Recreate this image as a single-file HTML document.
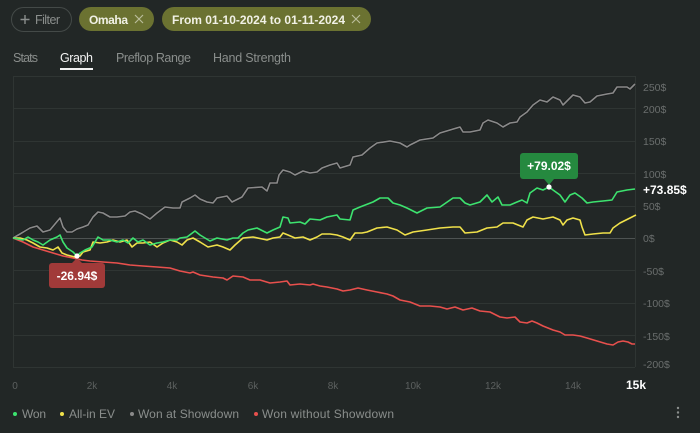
<!DOCTYPE html>
<html><head><meta charset="utf-8"><style>
html,body{margin:0;padding:0;background:#222726;}
svg{display:block;font-family:"Liberation Sans",sans-serif;}
</style></head><body>
<svg width="700" height="433" viewBox="0 0 700 433" xmlns="http://www.w3.org/2000/svg">
<rect width="700" height="433" fill="#222726"/>
<!-- chips -->
<rect x="11.5" y="7.5" width="60" height="24" rx="12" fill="none" stroke="#444a48"/>
<path d="M20.5 19.5h9M25 15v9" stroke="#8a8e8c" stroke-width="1.4"/>
<text x="35" y="24" font-size="12.5" fill="#8a8e8c" textLength="25">Filter</text>
<rect x="79" y="7" width="75" height="24" rx="12" fill="#6b7231"/>
<text x="89" y="24" font-size="12" font-weight="bold" fill="#f1f1e6" textLength="39">Omaha</text>
<path d="M135 15l8 8M143 15l-8 8" stroke="#b9bd9a" stroke-width="1.2"/>
<rect x="162" y="7" width="209" height="24" rx="12" fill="#6b7231"/>
<text x="172" y="24" font-size="12" font-weight="bold" fill="#f1f1e6" textLength="173">From 01-10-2024 to 01-11-2024</text>
<path d="M352 15l8 8M360 15l-8 8" stroke="#b9bd9a" stroke-width="1.2"/>
<!-- tabs -->
<text x="13" y="62" font-size="12.5" fill="#8a8e8c" textLength="25">Stats</text>
<text x="60" y="62" font-size="12.5" fill="#f2f2f2" textLength="33">Graph</text>
<rect x="60" y="68" width="33" height="2" fill="#f2f2f2"/>
<text x="116" y="62" font-size="12.5" fill="#8a8e8c" textLength="75">Preflop Range</text>
<text x="213" y="62" font-size="12.5" fill="#8a8e8c" textLength="78">Hand Strength</text>
<!-- grid -->
<g stroke="#2f3533" stroke-width="1">
<line x1="13" y1="76.5" x2="635" y2="76.5"/>
<line x1="13" y1="108.5" x2="635" y2="108.5"/>
<line x1="13" y1="141.5" x2="635" y2="141.5"/>
<line x1="13" y1="173.5" x2="635" y2="173.5"/>
<line x1="13" y1="206.5" x2="635" y2="206.5"/>
<line x1="13" y1="270.5" x2="635" y2="270.5"/>
<line x1="13" y1="303.5" x2="635" y2="303.5"/>
<line x1="13" y1="335.5" x2="635" y2="335.5"/>
<line x1="13" y1="367.5" x2="635" y2="367.5"/>
<line x1="13.5" y1="76" x2="13.5" y2="367"/>
<line x1="635.5" y1="76" x2="635.5" y2="367"/>
</g>
<line x1="13" y1="238.5" x2="635" y2="238.5" stroke="#4e5352" stroke-width="1"/>
<!-- y labels -->
<g font-size="10.5" fill="#6a6e6d">
<text x="643" y="91">250$</text>
<text x="643" y="113">200$</text>
<text x="643" y="145">150$</text>
<text x="643" y="178">100$</text>
<text x="643" y="210">50$</text>
<text x="643" y="242">0$</text>
<text x="643" y="275">-50$</text>
<text x="643" y="307">-100$</text>
<text x="643" y="340">-150$</text>
<text x="643" y="368">-200$</text>
</g>
<!-- x labels -->
<g font-size="10" fill="#5c605f" text-anchor="middle">
<text x="15" y="389">0</text>
<text x="92" y="389">2k</text>
<text x="172" y="389">4k</text>
<text x="253" y="389">6k</text>
<text x="333" y="389">8k</text>
<text x="413" y="389">10k</text>
<text x="493" y="389">12k</text>
<text x="573" y="389">14k</text>
</g>
<text x="636" y="389" font-size="12" font-weight="bold" fill="#ffffff" text-anchor="middle">15k</text>
<!-- series shadows -->
<g fill="none" stroke="#151817" stroke-width="3" stroke-linejoin="round" opacity="0.6">
<polyline id="g" points="13,238 20,234 25,231 30,228 37,226 43,232 50,230 55,224 60,218 63,227 67,232 72,232 77,229 83,227 88,225 93,217 98,212 103,213 110,217 117,217 125,216 130,212 135,211 142,214 150,219 157,213 165,207 173,208 180,208 182,202 186,200 190,198 195,195 200,199 207,202 213,203 217,198 227,196 232,202 242,197 248,188 262,187 267,191 270,183 277,183 279,175 283,170 290,172 295,175 303,171 310,173 317,172 322,168 330,165 337,163 340,168 350,165 353,157 362,155 370,148 377,143 390,141 400,143 407,147 410,145 420,140 433,138 440,133 450,130 460,127 463,132 470,132 480,130 483,123 488,120 497,123 503,127 510,123 517,122 520,117 527,112 533,105 540,100 547,102 553,97 560,100 563,105 568,100 573,95 580,97 585,103 590,102 597,96 607,94 613,93 617,87 627,87 630,89 635,84"/>
</g>
<g fill="none" stroke-width="1.6" stroke-linejoin="round">
<polyline stroke="#8a8a8a" points="13,238 20,234 25,231 30,228 37,226 43,232 50,230 55,224 60,218 63,227 67,232 72,232 77,229 83,227 88,225 93,217 98,212 103,213 110,217 117,217 125,216 130,212 135,211 142,214 150,219 157,213 165,207 173,208 180,208 182,202 186,200 190,198 195,195 200,199 207,202 213,203 217,198 227,196 232,202 242,197 248,188 262,187 267,191 270,183 277,183 279,175 283,170 290,172 295,175 303,171 310,173 317,172 322,168 330,165 337,163 340,168 350,165 353,157 362,155 370,148 377,143 390,141 400,143 407,147 410,145 420,140 433,138 440,133 450,130 460,127 463,132 470,132 480,130 483,123 488,120 497,123 503,127 510,123 517,122 520,117 527,112 533,105 540,100 547,102 553,97 560,100 563,105 568,100 573,95 580,97 585,103 590,102 597,96 607,94 613,93 617,87 627,87 630,89 635,84"/>
<polyline stroke="#e8504d" points="13,238 18,240 23,242 33,247 43,250 53,253 63,256 73,258 82,260 90,261 103,262 117,263 130,265 143,266 157,267 170,268 180,271 190,273 193,272 200,275 213,277 223,278 227,280 233,276 243,277 250,280 260,280 270,283 280,282 287,281 290,285 300,284 310,285 313,284 320,286 327,287 337,289 343,291 350,290 358,288 367,290 377,292 387,294 393,296 400,300 410,302 420,306 430,306 440,307 447,309 455,307 463,310 472,308 480,311 490,312 500,317 507,318 515,317 520,322 527,323 532,321 537,323 543,326 553,330 560,332 565,335 573,335 580,336 587,338 597,341 607,344 613,345 618,342 623,341 628,342 632,344 635,344"/>
<polyline stroke="#f0e14a" points="13,238 20,238 27,240 33,243 40,247 47,248 53,250 58,247 62,253 67,255 75,257 80,256 83,252 90,250 93,242 100,243 107,242 113,240 120,242 127,240 132,247 137,243 143,243 150,242 157,247 163,243 170,240 177,242 182,245 187,240 193,238 200,242 208,247 217,245 223,247 230,250 235,245 243,238 253,237 267,240 273,238 280,237 283,233 288,235 295,238 303,237 310,240 317,237 322,234 330,234 337,235 343,237 350,240 355,233 362,233 367,232 377,228 387,227 397,230 405,235 413,232 427,230 440,228 453,227 460,227 465,233 477,232 487,228 497,227 503,223 513,223 523,227 527,220 533,217 543,219 553,217 560,220 563,225 567,220 573,218 580,220 582,227 585,235 593,234 603,233 610,233 613,228 620,223 630,218 636,215"/>
<polyline stroke="#3de36f" points="13,238 18,239 23,240 28,237 33,240 38,242 43,245 50,240 57,237 60,235 63,242 67,248 73,252 77,256 80,253 85,250 92,247 95,242 98,237 103,240 110,240 117,242 123,240 128,243 133,238 138,242 143,240 150,245 157,243 163,242 170,240 177,240 180,238 187,237 195,231 200,235 210,241 217,238 227,240 233,238 238,238 243,233 248,230 257,228 267,233 273,230 280,227 283,217 288,218 290,223 300,222 305,224 310,219 320,220 327,217 337,215 340,219 350,220 353,210 360,207 373,202 380,198 388,198 393,203 400,205 407,208 417,213 427,208 440,207 453,198 460,198 465,203 470,205 480,202 487,195 492,202 498,197 502,205 510,205 517,202 522,200 527,203 530,193 537,188 543,190 549,187 553,190 560,195 565,202 570,195 575,193 582,198 587,203 593,202 603,201 612,200 617,192 627,190 635,189"/>
</g>
<text x="643" y="194" font-size="12" font-weight="bold" fill="#ffffff">+73.85$</text>
<!-- tooltips -->
<rect x="520" y="153" width="58" height="26" rx="3" fill="#25893f"/>
<path d="M544 179l5 6l5 -6z" fill="#25893f"/>
<text x="549" y="170" font-size="12" font-weight="bold" fill="#ffffff" text-anchor="middle">+79.02$</text>
<circle cx="549" cy="187" r="2.6" fill="#ffffff"/>
<rect x="49" y="263" width="56" height="25" rx="3" fill="#a13a39"/>
<path d="M72 263l5 -5l5 5z" fill="#a13a39"/>
<text x="77" y="280" font-size="12" font-weight="bold" fill="#ffffff" text-anchor="middle">-26.94$</text>
<circle cx="77" cy="256" r="2.6" fill="#ffffff"/>
<!-- legend -->
<circle cx="15" cy="414" r="2" fill="#3de36f"/>
<text x="22" y="418" font-size="12" fill="#8a8e8c" textLength="24">Won</text>
<circle cx="62" cy="414" r="2" fill="#f0e14a"/>
<text x="69" y="418" font-size="12" fill="#8a8e8c" textLength="46">All-in EV</text>
<circle cx="132" cy="414" r="2" fill="#8a8a8a"/>
<text x="138" y="418" font-size="12" fill="#8a8e8c" textLength="101">Won at Showdown</text>
<circle cx="256" cy="414" r="2" fill="#e8504d"/>
<text x="262" y="418" font-size="12" fill="#8a8e8c" textLength="132">Won without Showdown</text>
<circle cx="678" cy="408" r="1.2" fill="#8a8e8c"/>
<circle cx="678" cy="412.5" r="1.2" fill="#8a8e8c"/>
<circle cx="678" cy="417" r="1.2" fill="#8a8e8c"/>
</svg>
</body></html>
